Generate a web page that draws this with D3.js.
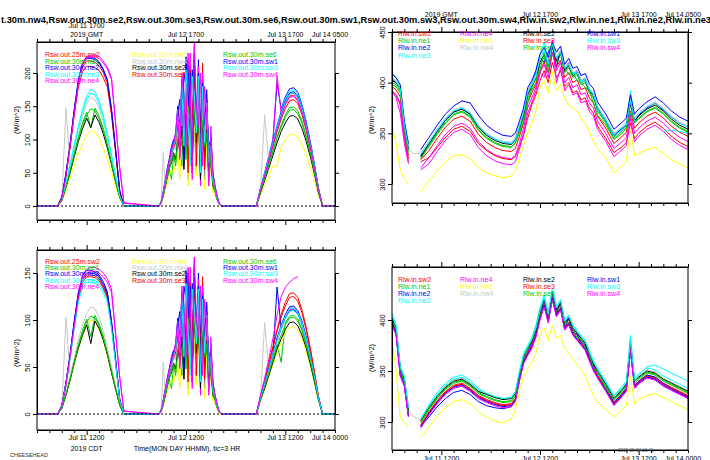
<!DOCTYPE html>
<html><head><meta charset="utf-8">
<script src="https://cdn.jsdelivr.net/npm/d3@7"></script>
<style>body{margin:0;background:#fff}svg{display:block;font-family:"Liberation Sans",Arial,sans-serif}</style>
</head><body>
<svg id="c" width="710" height="460"></svg>
<script>
const rswNames = ["Rsw.out.25m.sw2","Rsw.out.30m.ne1","Rsw.out.30m.ne2","Rsw.out.30m.ne3","Rsw.out.30m.ne4","Rsw.out.30m.nw1","Rsw.out.30m.nw4","Rsw.out.30m.se2","Rsw.out.30m.se3","Rsw.out.30m.se6","Rsw.out.30m.sw1","Rsw.out.30m.sw3","Rsw.out.30m.sw4"];
const rlwNames = ["Rlw.in.sw2","Rlw.in.ne1","Rlw.in.ne2","Rlw.in.ne3","Rlw.in.ne4","Rlw.in.nw1","Rlw.in.nw4","Rlw.in.se2","Rlw.in.se3","Rlw.in.se6","Rlw.in.sw1","Rlw.in.sw3","Rlw.in.sw4"];
const seriesColors = ["#ff0000","#00c800","#0000ff","#00ffff","#ff00ff","#ffff00","#c8c8c8","#000000","#ff0000","#00c800","#0000ff","#00ffff","#ff00ff"];
const labelHours = [12,36,60,72];
const topTickLabels = ["Jul 11 1700","Jul 12 1700","Jul 13 1700","Jul 14 0500"];
const bottomTickLabels = ["Jul 11 1200","Jul 12 1200","Jul 13 1200","Jul 14 0000"];
const titleText = "t.30m.nw4,Rsw.out.30m.se2,Rsw.out.30m.se3,Rsw.out.30m.se6,Rsw.out.30m.sw1,Rsw.out.30m.sw3,Rsw.out.30m.sw4,Rlw.in.sw2,Rlw.in.ne1,Rlw.in.ne2,Rlw.in.ne3";

// hours since Jul 11 00:00 CDT
const rswHours = [0,5,6,7,8,9,10,11,12,13,14,15,16,17,18,19,20,21,
 29,29.5,30,30.5,31,31.5,32,32.5,33,33.5,34,34.5,35,35.5,36,36.5,37,37.5,38,38.5,39,39.5,40,40.5,41,41.5,42,42.5,43,43.5,44,44.5,45,
 53,54,55,56,57,58,59,60,61,62,63,64,65,66,67,68,69,72];
const rlwHours = [0,1,2,3,4,5,7,9,11,13,15,17,19,21,23,25,27,29,30,31,32,33,34,35,36,37,38,39,40,41,42,43,44,45,46,47,48,49,50,52,54,56,57,58,59,60,62,64,66,68,70,72];

const rswTop = [
 [0,0,13,46,88,137,179,202,210,210,208,204,193,179,137,80,21,0, 0,0,5,18,35,50,66,80,92,100,130,90,170,110,200,70,210,60,225,100,190,45,215,70,150,80,95,50,28,14,3,0,0, 0,25,47,70,94,117,137,154,165,167,160,144,120,92,60,25,0,0],
 [0,0,9,30,54,80,104,125,141,118,147,135,117,93,66,39,14,0, 0,0,5,15,30,42,55,40,75,65,95,110,60,140,120,150,70,160,130,50,150,90,140,60,120,40,70,30,25,12,3,0,0, 0,22,42,63,83,104,122,137,148,149,143,128,107,82,54,22,0,0],
 [0,0,13,49,94,146,190,215,224,224,222,217,206,190,146,85,22,0, 0,0,7,22,40,58,72,90,100,95,140,160,80,200,180,220,110,205,150,60,220,120,195,40,160,90,100,35,30,15,4,0,0, 0,27,50,75,100,185,146,164,176,178,171,153,128,98,64,27,0,0],
 [0,0,11,35,63,93,121,145,165,175,172,158,137,109,77,46,16,0, 0,0,6,18,35,50,65,75,90,85,115,130,70,170,150,60,190,140,180,90,175,60,165,110,140,70,85,45,28,12,3,0,0, 0,26,49,74,98,123,144,161,173,175,168,151,126,96,63,26,0,0],
 [0,0,11,45,91,141,186,216,225,227,227,225,218,209,193,125,57,5, 0,0,6,20,38,55,70,85,95,105,120,100,150,60,215,40,230,120,240,70,210,30,200,90,170,50,110,40,30,15,4,0,0, 0,26,48,71,95,195,139,156,168,170,163,146,122,94,61,26,0,0],
 [0,0,7,23,41,60,78,94,106,113,111,102,88,70,50,29,10,0, 0,0,4,12,25,35,45,55,50,65,80,40,100,75,120,30,125,90,130,45,115,70,110,25,95,35,60,20,15,8,2,0,0, 0,16,30,45,60,60,89,99,107,108,104,93,78,59,39,16,0,0],
 [0,0,10,148,59,86,112,135,153,163,160,147,127,101,72,42,15,0, 0,0,5,80,30,48,60,70,85,90,110,95,140,100,160,65,170,110,165,80,150,55,140,85,120,60,80,40,25,12,3,0,0, 0,24,137,67,90,112,131,147,158,160,154,138,115,88,58,24,0,0],
 [0,0,8,28,50,74,97,116,132,118,137,126,109,87,62,36,13,0, 0,0,5,15,30,45,58,65,80,70,100,85,120,55,140,100,150,70,145,95,135,40,125,75,115,45,70,30,22,10,3,0,0, 0,20,38,57,76,95,112,125,135,136,131,117,98,75,49,20,0,0],
 [0,0,13,48,92,142,185,209,218,218,216,211,201,185,142,83,22,0, 0,0,5,17,33,48,62,78,88,95,125,75,165,90,190,50,205,130,200,60,180,110,170,55,145,60,90,40,26,12,3,0,0, 0,24,45,67,90,112,131,147,158,160,154,138,115,88,58,24,0,0],
 [0,0,9,29,53,77,101,121,137,146,143,131,114,91,64,38,13,0, 0,0,5,15,30,44,56,68,78,60,100,120,90,130,70,150,130,60,145,110,140,75,130,90,110,35,75,30,22,10,3,0,0, 0,22,41,61,81,102,119,133,144,145,139,125,104,80,52,22,0,0],
 [0,0,13,49,93,144,189,213,222,222,220,215,204,189,144,84,22,0, 0,0,6,20,37,52,68,82,95,110,150,120,190,70,225,150,200,50,230,140,200,80,185,120,175,55,105,50,30,14,3,0,0, 0,26,48,72,96,120,141,158,170,172,165,148,124,95,62,26,0,0],
 [0,0,10,34,61,90,117,141,160,170,167,153,133,105,75,44,15,0, 0,0,6,19,36,52,66,78,92,100,135,115,180,90,205,130,60,195,170,110,195,50,180,95,155,65,90,40,28,12,3,0,0, 0,26,48,71,95,119,139,156,168,170,163,146,122,94,61,26,0,0],
 [0,0,11,45,90,139,184,213,222,224,224,222,215,206,190,123,56,4, 0,0,6,19,36,53,68,83,94,110,145,70,200,160,90,230,180,40,245,150,120,200,60,180,140,30,120,45,30,14,4,0,0, 0,25,46,69,92,116,135,152,163,165,158,142,119,91,59,25,0,0]
];

const rswBottom = [
 [0,0,9,33,62,96,126,142,148,148,147,144,136,126,96,56,15,0, 0,0,3,12,24,34,45,54,63,68,88,61,116,75,136,48,143,41,153,68,129,31,146,48,102,54,65,34,19,10,2,0,0, 0,19,36,54,72,90,106,119,128,129,124,111,93,71,46,19,0,0],
 [0,0,6,21,39,57,74,89,101,82,105,96,83,66,47,28,10,0, 0,0,3,10,20,29,37,27,51,44,65,75,41,95,82,102,48,109,88,34,102,61,95,41,82,27,48,20,17,8,2,0,0, 0,16,29,44,59,74,55,97,104,105,101,90,76,58,38,16,0,0],
 [0,0,9,34,64,99,130,147,153,153,151,148,141,130,99,58,15,0, 0,0,5,15,27,39,49,61,68,65,95,109,54,136,122,150,75,139,102,41,150,82,133,27,109,61,68,24,20,10,3,0,0, 0,17,31,47,62,135,91,102,110,111,107,95,80,61,40,17,0,0],
 [0,0,9,31,60,93,122,137,143,143,142,139,132,122,93,54,14,0, 0,0,4,12,24,34,44,51,61,58,78,88,48,116,102,41,129,95,122,61,119,41,112,75,95,48,58,31,19,8,2,0,0, 0,17,31,46,62,77,90,101,109,110,106,95,79,61,40,17,0,0],
 [0,0,8,31,62,97,128,148,154,156,156,154,150,144,133,86,39,3, 0,0,4,14,26,37,48,58,65,71,82,68,102,41,146,27,156,82,163,48,143,20,136,61,116,34,75,27,20,10,3,0,0, 0,17,31,47,63,78,92,103,111,112,108,96,81,62,40,17,0,0],
 [0,0,6,20,36,53,69,83,94,100,98,90,78,62,44,26,9,0, 0,0,3,8,17,24,31,37,34,44,54,27,68,51,82,20,85,61,88,31,78,48,75,17,65,24,41,14,10,5,1,0,0, 0,14,26,39,52,65,76,86,92,93,89,80,67,51,33,14,0,0],
 [0,0,7,103,41,60,79,95,107,114,112,103,89,71,50,30,10,0, 0,0,3,55,20,33,41,48,58,61,75,65,95,68,109,44,116,75,112,54,102,37,95,58,82,41,54,27,17,8,2,0,0, 0,17,97,48,64,80,93,105,113,114,109,98,82,63,41,17,0,0],
 [0,0,6,20,36,54,70,84,95,75,99,91,79,63,44,26,9,0, 0,0,3,10,20,31,39,44,54,48,68,58,82,37,95,68,102,48,99,65,92,27,85,51,78,31,48,20,15,7,2,0,0, 0,15,27,41,55,69,80,90,97,98,94,84,71,54,35,15,0,0],
 [0,0,9,32,61,95,124,140,146,146,145,142,134,124,95,55,15,0, 0,0,3,12,22,33,42,53,60,65,85,51,112,61,129,34,139,88,136,41,122,75,116,37,99,41,61,27,18,8,2,0,0, 0,19,35,53,70,88,103,115,124,125,120,108,90,69,45,19,0,0],
 [0,0,6,21,37,55,72,86,98,104,102,94,81,64,46,27,9,0, 0,0,3,10,20,30,38,46,53,41,68,82,61,88,48,102,88,41,99,75,95,51,88,61,75,24,51,20,15,7,2,0,0, 0,15,29,43,58,72,84,95,102,103,99,89,74,57,37,15,0,0],
 [0,0,9,33,63,98,128,144,150,150,149,146,138,128,98,57,15,0, 0,0,4,14,25,35,46,56,65,75,102,82,129,48,153,102,136,34,156,95,136,54,126,82,119,37,71,34,20,10,2,0,0, 0,17,32,48,64,81,94,106,114,115,110,99,83,63,41,17,0,0],
 [0,0,8,31,59,91,119,134,140,140,139,136,129,119,91,53,14,0, 0,0,4,13,24,35,45,53,63,68,92,78,122,61,139,88,41,133,116,75,133,34,122,65,105,44,61,27,19,8,2,0,0, 0,17,32,47,63,79,93,104,112,113,108,97,81,62,41,17,0,0],
 [0,0,8,30,61,94,125,144,150,152,152,150,146,140,129,84,38,3, 0,0,4,13,24,36,46,56,64,75,99,48,136,109,61,156,122,27,167,102,82,136,41,122,95,20,82,31,20,10,3,0,0, 0,20,38,58,80,105,125,135,140,144,146,null,null,null,null,null,null,null]
];

const rlwTop = [
 [392,388,378,345,325,null, 322,326,336,346,354,357,352,340,333,328,325,324, 327,337,348,365,378,388,402,412,400,420,405,412,396,400,390,392,383,385,375,370,357, 345,331,337,341,360,345,350, 357,361,355,347,341,337],
 [400,398,392,355,333,null, 326,338,350,361,369,372,367,354,346,341,338,337, 340,352,365,385,393,400,418,425,415,435,420,428,410,415,405,408,398,400,390,385,372, 360,345,352,356,378,360,365, 372,376,370,362,356,352],
 [403,400,395,360,336,null, 328,340,352,363,371,374,369,357,349,344,341,340, 344,356,370,390,398,410,425,420,430,438,415,432,412,420,408,412,402,404,392,388,375, 362,348,355,358,385,362,368, 375,380,373,366,360,357],
 [410,405,396,362,338,null, 330,342,354,365,372,375,370,358,350,345,342,341, 345,358,372,392,400,412,428,440,420,438,425,430,415,418,410,410,402,403,394,389,376, 364,350,356,360,392,365,369, 376,380,374,366,360,356],
 [392,385,370,340,320,null, 314,320,332,343,351,354,349,336,328,323,320,319, 322,334,350,370,380,392,410,405,420,442,400,415,392,398,388,390,380,382,372,367,354, 342,327,334,338,365,342,347, 354,358,352,344,338,334],
 [358,340,314,305,300,null, 292,303,313,322,328,329,325,316,311,308,306,308, 312,325,338,350,360,372,395,402,390,410,392,398,385,378,375,372,365,360,352,342,335, 326,311,318,322,355,328,330, 334,336,330,324,320,316],
 [405,402,396,360,338,330, 330,342,354,365,373,376,371,358,350,345,342,341, 345,358,372,392,400,408,425,430,420,440,425,432,415,420,410,412,402,405,395,390,377, 365,350,357,361,385,365,370, 377,381,375,367,361,357],
 [402,400,394,358,335,null, 327,340,352,363,371,374,369,356,348,343,340,339, 343,355,368,388,396,404,420,428,418,436,422,430,412,417,407,410,400,402,392,387,374, 362,347,354,358,380,362,367, 374,378,372,364,358,354],
 [396,393,386,350,328,null, 324,333,345,356,364,367,362,349,341,336,333,332, 335,347,360,380,390,398,412,420,410,430,416,422,405,410,400,403,393,395,385,380,367, 355,340,347,351,372,355,360, 367,371,365,357,351,347],
 [398,396,390,352,331,null, 325,337,349,360,368,371,366,353,345,340,337,336, 341,350,362,380,395,405,412,430,410,428,425,420,415,408,410,402,400,395,392,380,368, 358,344,350,355,370,362,364, 371,375,369,361,355,351],
 [408,405,398,362,340,null, 334,346,358,369,377,382,380,368,358,352,348,347, 350,362,375,395,402,412,428,435,425,440,430,436,418,424,414,416,407,409,399,394,381, 369,354,361,365,388,369,374, 381,386,380,372,366,362],
 [404,401,394,358,336,null, 329,341,353,364,372,375,370,357,349,344,341,340, 343,356,370,390,398,406,424,432,418,438,424,430,414,418,408,410,400,402,393,388,374, 362,347,354,358,382,362,null, null,null,352,353,352,350],
 [390,388,380,345,322,null, 316,326,338,349,357,360,355,342,334,329,326,325, 328,340,355,375,385,395,410,418,405,430,412,420,400,405,395,398,388,390,380,375,362, 350,335,342,346,368,350,355, 362,366,360,352,346,342]
];

const rlwBottom = [
 [398,388,352,342,308,null, 297,310,321,330,336,338,333,326,322,319,317,318, 323,343,360,368,375,386,402,415,400,422,405,412,393,398,388,383,378,373,363,353,346, 333,319,328,333,370,336,340, 346,344,338,334,330,326],
 [400,390,350,340,310,null, 299,312,323,332,338,340,335,328,324,321,319,320, 325,345,362,370,377,388,405,418,402,425,408,415,395,400,390,385,380,375,365,355,348, 335,321,330,335,375,338,342, 348,346,340,336,332,328],
 [398,388,348,336,306,null, 296,305,315,323,329,331,327,320,316,314,313,315, 322,342,360,368,378,390,408,415,405,428,405,418,392,402,388,386,378,376,362,356,345, 333,319,328,333,380,336,340, 346,344,338,333,329,325],
 [407,395,355,345,314,null, 303,317,329,338,344,346,341,333,328,325,323,324, 330,350,367,375,383,395,412,425,408,430,414,420,400,405,395,390,385,380,370,360,353, 340,326,335,340,385,343,347, 353,351,345,341,337,333],
 [396,386,346,336,305,null, 296,309,320,329,335,337,332,325,321,318,316,317, 322,342,358,368,376,390,410,420,400,428,410,418,398,402,392,387,382,372,366,358,345, 332,318,327,332,372,335,339, 345,342,336,331,327,324],
 [380,350,305,300,295,null, 285,295,306,314,320,322,318,310,305,301,299,303, 312,330,345,352,358,368,385,392,380,395,382,385,372,368,362,356,352,345,335,326,320, 312,305,312,316,345,318,322, 326,328,324,320,316,312],
 [403,393,353,343,313,306, 302,315,326,335,341,343,338,331,327,324,322,323, 328,348,365,373,380,391,408,421,405,428,411,418,398,403,393,388,383,378,368,358,351, 338,324,333,338,378,341,345, 351,349,343,339,335,331],
 [402,392,352,342,312,null, 301,314,325,334,340,342,337,330,327,324,322,323, 328,347,364,372,379,390,407,420,404,427,410,417,397,402,392,387,382,377,367,357,350, 337,323,332,337,377,340,344, 350,348,342,338,334,330],
 [397,387,347,337,307,null, 296,309,320,329,335,337,332,325,321,318,316,317, 322,342,359,367,374,385,402,415,399,422,405,412,392,397,387,382,377,372,362,352,345, 332,318,327,332,372,335,339, 345,343,337,333,329,325],
 [398,392,352,338,308,null, 300,313,324,333,339,341,336,329,325,322,320,321, 327,342,365,372,380,392,410,412,405,418,412,410,398,396,392,382,382,372,368,352,350, 333,322,331,336,368,340,343, 349,347,341,337,333,329],
 [396,386,346,336,306,null, 295,308,319,328,334,336,331,324,320,317,315,316, 321,341,358,366,373,384,401,414,398,421,404,411,391,396,386,381,376,371,361,351,344, 331,317,326,331,371,334,338, 344,342,336,332,328,324],
 [404,394,354,344,314,null, 303,316,327,336,342,344,339,332,328,325,323,324, 329,349,366,374,381,392,409,422,406,429,412,419,399,404,394,389,384,379,369,359,352, 339,325,334,339,379,342,346, 354,356,352,348,344,340],
 [395,385,345,335,305,null, 294,307,318,327,333,335,330,323,319,316,314,315, 320,340,357,365,372,383,400,413,397,420,403,410,390,395,385,380,375,370,360,350,343, 330,316,325,330,370,333,337, 343,341,335,331,327,323]
];

const svg = d3.select("#c");
const tickHours = d3.range(0, 73, 3);
const rswCols = [[0,5],[5,9],[9,13]];
const rlwCols = [[0,4],[4,7],[7,10],[10,13]];

const panels = [
 {x0:37,x1:335,y0:42,y1:220,ydom:[0,200],yrng:[206,73],yt:[0,50,100,150,200],hours:rswHours,data:rswTop,names:rswNames,cols:rswCols,colX:[45,132,223],legY:57,legDy:6.5,zero:true,yLabY:120,top:{y:37,y2:28,first:true},bottom:null},
 {x0:37,x1:335,y0:250,y1:430,ydom:[0,150],yrng:[414,273],yt:[0,50,100,150],hours:rswHours,data:rswBottom,names:rswNames,cols:rswCols,colX:[45,132,223],legY:264,legDy:6.2,zero:true,yLabY:353,top:null,bottom:{y:440,y2:451}},
 {x0:392,x1:688,y0:32,y1:203,ydom:[300,450],yrng:[184,32],yt:[300,350,400,450],hours:rlwHours,data:rlwTop,names:rlwNames,cols:rlwCols,colX:[398,460,523,587],legY:36,legDy:7.2,zero:false,yLabY:120,top:{y:17,y2:8,first:false},bottom:null},
 {x0:392,x1:688,y0:267,y1:450,ydom:[300,400],yrng:[422,320],yt:[300,350,400],hours:rlwHours,data:rlwBottom,names:rlwNames,cols:rlwCols,colX:[398,460,523,587],legY:282,legDy:7,zero:false,yLabY:358,top:null,bottom:{y:461,y2:472}}
];

panels.forEach((p,i)=>{
  const x = d3.scaleLinear().domain([0,72]).range([p.x0,p.x1]);
  const y = d3.scaleLinear().domain(p.ydom).range(p.yrng);
  const g = svg.append("g");
  svg.append("clipPath").attr("id","clip"+i).append("rect")
    .attr("x",p.x0).attr("y",p.y0).attr("width",p.x1-p.x0).attr("height",p.y1-p.y0);
  const lg = g.append("g").attr("clip-path",`url(#clip${i})`);
  const line = d3.line().defined(d=>d[1]!==null && d[1]!==undefined && d[0]!==undefined)
     .x(d=>x(d[0])).y(d=>y(d[1]));
  p.data.forEach((vals,k)=>{
    const pts = p.hours.map((h,j)=>[h, vals[j]]);
    lg.append("path").datum(pts).attr("fill","none").attr("stroke",seriesColors[k])
      .attr("stroke-width",1).attr("stroke-linejoin","round").attr("d",line);
  });
  if(p.zero){
    lg.append("line").attr("x1",p.x0).attr("x2",p.x1).attr("y1",y(0)).attr("y2",y(0))
      .attr("stroke","#000").attr("stroke-width",1).attr("stroke-dasharray","2,2");
  }
  g.append("rect").attr("x",p.x0).attr("y",p.y0).attr("width",p.x1-p.x0).attr("height",p.y1-p.y0)
    .attr("fill","none").attr("stroke","#000").attr("stroke-width",1);
  const ax1 = g.append("g").attr("transform",`translate(0,${p.y0})`)
    .call(d3.axisTop(x).tickValues(tickHours).tickFormat("").tickSize(3).tickSizeOuter(0));
  const ax2 = g.append("g").attr("transform",`translate(0,${p.y1})`)
    .call(d3.axisBottom(x).tickValues(tickHours).tickFormat("").tickSize(3).tickSizeOuter(0));
  ax1.selectAll(".tick line").filter(d=>d%24===12).attr("y2",-5);
  ax2.selectAll(".tick line").filter(d=>d%24===12).attr("y2",5);
  const ay = g.append("g").attr("transform",`translate(${p.x0},0)`)
    .call(d3.axisLeft(y).tickValues(p.yt).tickSize(4).tickSizeOuter(0).tickFormat(d3.format("d")));
  ay.selectAll("text").attr("x",0).attr("dy",0).attr("text-anchor","middle")
    .attr("transform","translate(-7,0) rotate(-90)").attr("font-size",7.5).attr("fill","#000");
  g.append("g").attr("transform",`translate(${p.x1},0)`)
    .call(d3.axisRight(y).tickValues(p.yt).tickSize(4).tickSizeOuter(0).tickFormat(""));
  g.selectAll(".domain").attr("stroke","#000");
  g.selectAll(".tick line").attr("stroke","#000");
  g.selectAll("g").attr("font-family",null);
  g.append("text").attr("transform",`translate(${p.x0-18},${p.yLabY}) rotate(-90)`)
    .attr("text-anchor","middle").attr("font-size",7.5).text("(W/m^2)");
  p.cols.forEach((c,ci)=>{
    d3.range(c[0],c[1]).forEach((k,r)=>{
      g.append("text").attr("x",p.colX[ci]).attr("y",p.legY + r*p.legDy)
        .attr("font-size",7).attr("fill",seriesColors[k]).text(p.names[k]);
    });
  });
  if(p.top){
    labelHours.forEach((h,j)=>{
      if(j===0 && !p.top.first) return;
      const xx = x(h) - (h===72?5:0);
      g.append("text").attr("x",xx).attr("y",j===0?p.top.y2:p.top.y).attr("text-anchor","middle")
        .attr("font-size",7).text(topTickLabels[j]);
    });
    g.append("text").attr("x",x(12)).attr("y",p.top.y).attr("text-anchor","middle")
      .attr("font-size",7).text("2019 GMT");
  }
  if(p.bottom){
    labelHours.forEach((h,j)=>{
      const xx = x(h) - (h===72?5:0);
      g.append("text").attr("x",xx).attr("y",p.bottom.y).attr("text-anchor","middle")
        .attr("font-size",7).text(bottomTickLabels[j]);
    });
    g.append("text").attr("x",x(12)).attr("y",p.bottom.y2).attr("text-anchor","middle")
      .attr("font-size",7).text("2019 CDT");
  }
});

svg.append("text").attr("x",187).attr("y",451).attr("text-anchor","middle")
  .attr("font-size",7).text("Time(MON DAY HHMM), tic=3 HR");
svg.append("text").attr("x",10).attr("y",457).attr("font-size",5.5).attr("fill","#333").text("CHEESEHEAD");
svg.append("text").attr("x",618).attr("y",452).attr("font-size",4.5).attr("fill","#555").text("2019-08-04 16:41");
svg.append("text").attr("x",1).attr("y",23).attr("font-size",9.5).attr("font-weight","bold")
  .attr("textLength",710).attr("lengthAdjust","spacingAndGlyphs").text(titleText);
</script>
</body></html>
